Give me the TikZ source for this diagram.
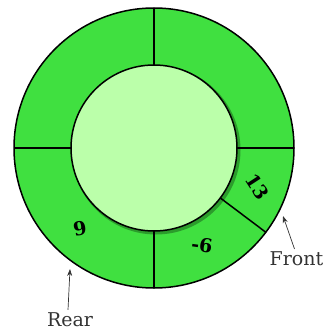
\documentclass[tikz,border=0pt]{standalone}
\usepackage{fontspec}
\setmainfont{DejaVu Serif}
\usetikzlibrary{arrows.meta,calc}
\definecolor{ringgreen}{RGB}{64,224,64}
\definecolor{hubgreen}{RGB}{187,255,170}
\begin{document}
\begin{tikzpicture}[x=1pt,y=-1pt,
  edge/.style={draw=black,line width=1.5pt},
  num/.style={font=\fontsize{19}{19}\selectfont\bfseries,inner sep=0pt},
  lbl/.style={font=\fontsize{19}{19}\selectfont,text=black!80,inner sep=0pt},
  pointer/.style={draw=black!80,line width=0.7pt,-{Stealth[length=7pt,width=5pt]}}]
\useasboundingbox (0,0) rectangle (323,334);
\coordinate (c) at (154,148);
\fill[ringgreen] (c) circle[radius=140];
\draw[edge] (c) circle[radius=140];
\fill[black,opacity=0.3] ($(c)+(2,2)$) circle[radius=84.5];
\fill[hubgreen] (c) circle[radius=83];
\draw[edge] (c) circle[radius=83];
% dividers
\draw[edge] ($(c)+(0,-83)$) -- ($(c)+(0,-140)$);
\draw[edge] ($(c)+(-83,0)$) -- ($(c)+(-140,0)$);
\draw[edge] ($(c)+(83,0)$) -- ($(c)+(140,0)$);
\draw[edge] ($(c)+(0,83)$) -- ($(c)+(0,140)$);
\draw[edge] ($(c)+(37:83)$) -- ($(c)+(37:140)$);
% values
\node[num,rotate=-57] (v13) at (257,187) {13};
\node[num,rotate=-8] (v6) at (202,245) {-6};
\node[num,rotate=10] (v9) at (80,229) {9};
% labels
\node[lbl,anchor=base] (front) at (296.5,265) {Front};
\node[lbl,anchor=base] (rear) at (70,326) {Rear};
\coordinate (ftip) at (283,216);
\coordinate (rtip) at (70,269);
\draw[pointer] ($(front.north)+(-2,-2)$) -- (ftip);
\draw[pointer] ($(rear.north)+(-2,-2)$) -- (rtip);
\end{tikzpicture}
\end{document}
